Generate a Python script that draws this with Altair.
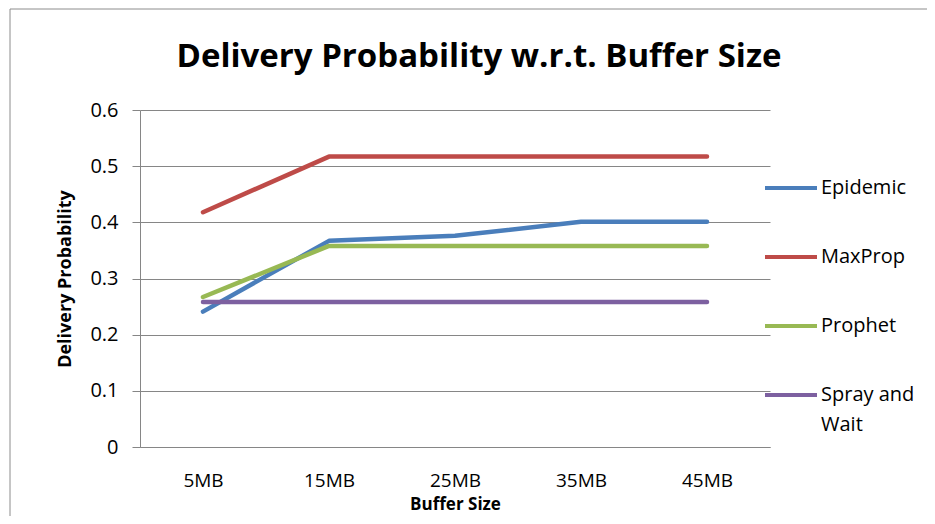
import altair as alt
import pandas as pd

buffer_sizes = ["5MB", "15MB", "25MB", "35MB", "45MB"]
protocols = ["Epidemic", "MaxProp", "Prophet", "Spray and Wait"]
epidemic = [0.241, 0.367, 0.376, 0.401, 0.401]
maxprop = [0.418, 0.517, 0.517, 0.517, 0.517]
prophet = [0.267, 0.358, 0.358, 0.358, 0.358]
spray_and_wait = [0.258, 0.258, 0.258, 0.258, 0.258]
colors = ["#4A7EBB", "#BE4B48", "#98B954", "#7D60A0"]
y_ticks = [0, 0.1, 0.2, 0.3, 0.4, 0.5, 0.6]

series = [epidemic, maxprop, prophet, spray_and_wait]
rows = []
for name, vals in zip(protocols, series):
    for b, v in zip(buffer_sizes, vals):
        rows.append({"Buffer Size": b, "Protocol": name, "Value": v})
df = pd.DataFrame(rows)

FONT = "Open Sans"
GRAY = "#868686"

lines = alt.Chart(df).mark_line(strokeWidth=4.5, strokeCap="round", strokeJoin="round").encode(
    x=alt.X("Buffer Size:N", sort=buffer_sizes,
            scale=alt.Scale(type="point", padding=0.5),
            axis=alt.Axis(title="Buffer Size", labelAngle=0, ticks=False, grid=False,
                          labelPadding=24, titlePadding=6, domainColor=GRAY,
                          labelFont=FONT, labelFontSize=19, labelColor="#000000",
                          titleFont=FONT, titleFontSize=17, titleFontWeight="bold",
                          titleColor="#000000")),
    y=alt.Y("Value:Q", scale=alt.Scale(domain=[0, 0.6], nice=False, zero=True),
            axis=alt.Axis(title="Delivery Probability", values=y_ticks, format=".1~f",
                          tickSize=8, labelPadding=14, titlePadding=15,
                          gridColor=GRAY, domainColor=GRAY, tickColor=GRAY,
                          labelFont=FONT, labelFontSize=20, labelColor="#000000",
                          titleFont=FONT, titleFontSize=18, titleFontWeight="bold",
                          titleColor="#000000")),
    color=alt.Color("Protocol:N", sort=protocols,
                    scale=alt.Scale(domain=protocols, range=colors),
                    legend=alt.Legend(
                        title=None, orient="none", legendX=623, legendY=50,
                        symbolType="stroke", symbolSize=2704, symbolStrokeWidth=4,
                        rowPadding=31, labelFontSize=20, labelFont=FONT, labelColor="#000000",
                        labelOffset=2, padding=0, labelLimit=200,
                        labelExpr="datum.label == 'Spray and Wait' ? ['Spray and', 'Wait'] : datum.label")),
)

border = alt.Chart(pd.DataFrame({"a": [0]})).mark_rect(
    fillOpacity=0, stroke="#8c8c8c", strokeWidth=1
).encode(
    x=alt.value(-130), x2=alt.value(820), y=alt.value(-101), y2=alt.value(440)
)

chart = alt.layer(border, lines).properties(
    width=630,
    height=337,
    background="#ffffff",
    padding={"left": 132, "top": 102, "right": 157, "bottom": 69},
    autosize=alt.AutoSizeParams(type="none"),
    title=alt.TitleParams("Delivery Probability w.r.t. Buffer Size", fontSize=33, font=FONT,
                          fontWeight="bold", anchor="middle", dx=24, offset=0, dy=91,
                          baseline="alphabetic", color="#000000"),
).configure(
    style={"guide-label": {"lineHeight": 30}},
    view={"stroke": None},
).configure_axis(
    gridWidth=1, domainWidth=1,
)

chart.save("out.html", embed_options={"renderer": "svg", "actions": False})
